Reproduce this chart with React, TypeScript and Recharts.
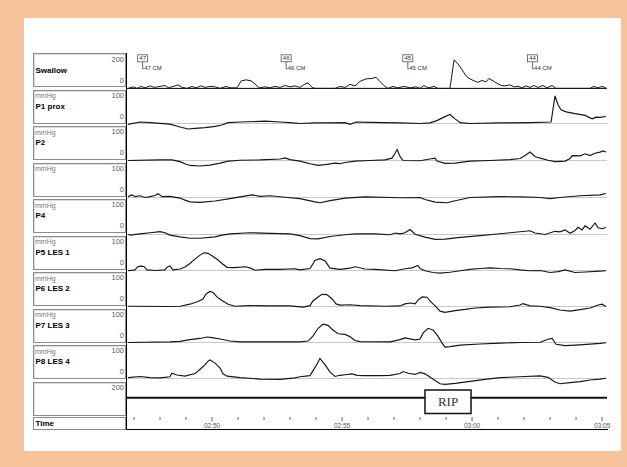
import React from 'react';
import { LineChart, Line, XAxis, YAxis, ReferenceLine, ReferenceArea, ComposedChart, Scatter } from 'recharts';

type Pt = [number, number];

// time in minutes (02:50 = 170)
const timeStart = 166.73;
const timeEnd = 185.19;
const minuteTicks = [167, 168, 169, 170, 171, 172, 173, 174, 175, 176, 177, 178, 179, 180, 181, 182, 183, 184, 185];
const timeLabels: Record<number, string> = { 170: '02:50', 175: '02:55', 180: '03:00', 185: '03:05' };

const swallow: Pt[] = [
  [166.77, 0], [166.96, 11], [167.12, 0], [167.27, 14], [167.42, 4], [167.62, 18], [167.77, 7], [168.0, 14],
  [168.19, 21], [168.31, 4], [168.5, 14], [168.69, 25], [168.85, 7], [169.04, 0], [169.23, 14], [169.38, 4],
  [169.58, 18], [169.73, 7], [169.92, 14], [170.12, 11], [170.31, 0], [170.54, 14], [170.69, 4], [170.96, 4],
  [171.12, 54], [171.31, 61], [171.5, 54], [171.69, 25], [171.81, 4], [172.04, 11], [172.23, 4], [172.42, 14],
  [172.62, 7], [172.81, 21], [173.0, 11], [173.19, 18], [173.38, 7], [173.58, 32], [173.69, 39], [173.85, 7],
  [173.96, 0], [174.73, 0], [174.92, 14], [175.12, 7], [175.31, 29], [175.5, 18], [175.69, 50], [175.92, 68],
  [176.15, 71], [176.31, 79], [176.42, 57], [176.62, 18], [176.77, 0], [176.96, 14], [177.15, 4], [177.38, 14],
  [177.62, 4], [177.85, 11], [178.0, 0], [178.15, 21], [178.31, 4], [178.54, 14], [178.69, 0], [179.15, 0],
  [179.31, 204], [179.46, 175], [179.62, 132], [179.77, 89], [179.92, 68], [180.08, 54], [180.23, 43], [180.38, 57],
  [180.54, 46], [180.65, 71], [180.81, 54], [180.96, 36], [181.12, 21], [181.27, 18], [181.46, 25], [181.62, 11],
  [181.77, 14], [181.92, 4], [182.08, 18], [182.23, 7], [182.38, 21], [182.54, 7], [182.73, 21], [182.88, 4],
  [183.08, 21], [183.23, 0], [184.54, 0], [184.69, 14], [184.85, 4], [185.0, 14], [185.15, 4],
];

const p1Prox: Pt[] = [
  [166.77, -3], [167.23, 5], [167.62, 3], [168.38, -2], [168.77, -12], [169.08, -19], [169.35, -17], [169.73, -14],
  [170.12, -10], [170.38, -5], [170.62, 3], [171.08, 5], [172.04, 8], [172.62, 5], [173.0, 3], [173.38, 0],
  [173.96, 2], [174.54, 2], [175.12, 3], [175.31, -3], [175.54, 5], [176.08, 4], [177.23, 2], [178.0, 0],
  [178.38, 2], [178.65, 10], [178.92, 22], [179.15, 31], [179.35, 16], [179.54, 3], [179.92, 0], [181.08, 2],
  [182.23, 3], [183.04, 5], [183.19, 95], [183.31, 64], [183.42, 47], [183.62, 40], [183.96, 34], [184.35, 28],
  [184.62, 16], [184.77, 22], [184.92, 21], [185.15, 24],
];

const p2: Pt[] = [
  [166.77, 0], [168.0, 2], [168.46, 2], [168.77, -4], [168.96, -11], [169.15, -17], [169.54, -19], [169.92, -16],
  [170.31, -9], [170.62, -2], [171.08, 1], [171.85, 2], [172.62, 5], [172.81, 9], [173.0, 3], [173.38, -2],
  [173.77, -11], [174.08, -17], [174.35, -14], [174.73, -9], [174.92, -11], [175.12, -7], [175.5, -2], [176.08, 0],
  [176.65, 2], [176.92, 8], [177.04, 25], [177.12, 38], [177.23, 14], [177.35, 0], [178.0, -1], [178.38, 5],
  [178.58, 8], [178.65, -2], [178.96, -10], [179.35, -9], [179.92, -2], [180.69, 0], [181.46, 3], [181.85, 7],
  [182.04, 17], [182.23, 29], [182.42, 14], [182.62, 8], [182.92, 1], [183.19, -4], [183.58, -2], [183.77, 7],
  [183.85, 17], [184.15, 16], [184.35, 23], [184.54, 17], [184.73, 25], [184.92, 29], [185.04, 33], [185.15, 29],
];

const p3: Pt[] = [
  [166.77, 3], [166.92, 9], [167.04, 3], [167.23, 6], [167.42, 0], [167.62, 3], [167.81, 7], [167.92, 13],
  [168.08, 3], [168.38, 4], [168.77, -2], [168.96, -9], [169.15, -15], [169.54, -17], [170.12, -12], [170.69, -4],
  [171.08, 2], [171.54, 9], [171.85, 4], [172.23, 6], [172.81, 1], [173.38, -4], [173.96, -15], [174.15, -18],
  [174.54, -11], [175.12, -2], [175.88, 2], [177.23, -1], [178.0, 0], [178.19, -7], [178.58, -16], [179.04, -18],
  [179.35, -11], [179.92, 0], [181.08, 3], [181.85, 2], [182.62, 0], [183.0, -4], [183.38, 0], [184.15, 6],
  [184.92, 9], [185.15, 14],
];

const p4: Pt[] = [
  [166.77, 1], [166.85, -2], [167.23, 2], [167.62, 6], [168.0, 10], [168.19, 6], [168.38, -2], [168.77, -8],
  [169.15, -13], [169.54, -13], [170.12, -8], [170.38, -2], [170.69, 2], [171.46, 6], [172.23, 4], [173.0, 2],
  [173.38, -4], [173.77, -14], [174.08, -15], [174.54, -7], [175.12, -1], [175.5, 2], [176.27, 2], [176.85, -1],
  [177.04, 5], [177.23, 2], [177.42, 6], [177.62, 17], [177.81, 1], [178.19, -9], [178.58, -17], [178.96, -16],
  [179.54, -10], [180.31, -4], [180.88, 1], [181.46, 6], [182.23, 13], [182.42, 5], [182.81, 0], [183.19, 11],
  [183.38, 9], [183.58, 16], [183.77, 4], [183.96, 14], [184.08, 25], [184.23, 16], [184.35, 30], [184.54, 18],
  [184.73, 40], [184.85, 23], [185.0, 20], [185.15, 24],
];

const p5Les1: Pt[] = [
  [166.77, -1], [167.04, 2], [167.15, 14], [167.27, 15], [167.38, 14], [167.5, 2], [167.81, 0], [168.19, 2],
  [168.27, 11], [168.38, 16], [168.5, 2], [168.77, 5], [168.96, 12], [169.15, 24], [169.35, 40], [169.54, 53],
  [169.69, 61], [169.85, 59], [170.04, 48], [170.23, 36], [170.38, 24], [170.58, 11], [170.88, 10], [171.27, 13],
  [171.46, 9], [171.65, 1], [172.04, 4], [172.62, 4], [173.19, 6], [173.38, 2], [173.77, 7], [173.96, 35],
  [174.15, 41], [174.35, 33], [174.54, 8], [174.92, 4], [175.31, 8], [175.5, 13], [175.88, 5], [176.27, 4],
  [177.04, -1], [177.42, 6], [177.69, 9], [177.92, 17], [178.0, 7], [178.19, -1], [178.5, -7], [178.77, -9],
  [179.15, -6], [179.54, -1], [179.92, 4], [180.31, 7], [180.69, 9], [181.08, 7], [181.46, 6], [181.85, 2],
  [182.23, -1], [182.62, 0], [183.0, -7], [183.31, -4], [183.58, 2], [183.96, -7], [184.35, -5], [184.92, -2],
  [185.15, -1],
];

const p6Les2: Pt[] = [
  [166.77, 1], [168.38, 0], [168.77, 1], [169.15, 8], [169.46, 17], [169.65, 26], [169.77, 43], [169.92, 52],
  [170.04, 48], [170.19, 33], [170.38, 21], [170.62, 8], [170.88, 1], [171.46, 3], [172.23, 2], [173.0, 2],
  [173.5, -2], [173.77, 3], [173.88, 19], [174.08, 33], [174.23, 42], [174.42, 41], [174.62, 26], [174.77, 9],
  [174.92, 5], [175.31, 6], [175.69, 3], [176.65, 1], [177.23, 2], [177.42, 9], [177.62, 12], [177.81, 9],
  [177.92, 22], [178.08, 33], [178.27, 32], [178.38, 19], [178.58, 2], [178.77, -16], [178.96, -20], [179.35, -14],
  [179.73, -10], [180.12, -5], [180.69, -2], [181.46, -1], [181.85, 5], [181.96, 10], [182.23, 2], [182.62, 1],
  [183.0, -4], [183.38, -12], [183.77, -16], [184.15, -11], [184.54, -5], [184.85, 5], [185.0, 8], [185.15, 0],
];

const p7Les3: Pt[] = [
  [166.77, 0], [168.38, 2], [168.77, 4], [169.15, 10], [169.54, 14], [169.81, 19], [170.0, 17], [170.31, 12],
  [170.69, 5], [171.08, 2], [173.38, 2], [173.69, 5], [173.88, 22], [174.08, 49], [174.27, 63], [174.46, 59],
  [174.65, 43], [174.85, 30], [175.12, 28], [175.31, 20], [175.5, 7], [175.69, 3], [176.85, 2], [177.23, 10],
  [177.42, 16], [177.81, 9], [178.0, 12], [178.12, 33], [178.31, 49], [178.5, 43], [178.69, 22], [178.85, -2],
  [178.96, -16], [179.15, -14], [179.54, -9], [180.31, -5], [181.08, -2], [181.85, 0], [182.62, 1], [182.92, 11],
  [183.08, 14], [183.23, -6], [183.58, -11], [184.15, -8], [184.92, -3], [185.15, -1],
];

const p8Les4: Pt[] = [
  [166.77, 3], [167.23, 7], [167.62, 3], [168.0, 2], [168.38, 6], [168.46, 18], [168.65, 12], [168.96, 8],
  [169.35, 17], [169.54, 32], [169.73, 47], [169.85, 60], [169.92, 64], [170.12, 53], [170.31, 36], [170.42, 16],
  [170.58, 8], [171.08, 3], [171.85, -2], [172.62, -3], [173.19, 2], [173.38, 6], [173.77, 10], [173.85, 22],
  [174.04, 50], [174.15, 69], [174.35, 47], [174.54, 22], [174.73, 7], [174.92, 11], [175.12, 13], [175.38, 16],
  [175.58, 11], [175.88, 10], [176.46, 10], [176.85, 11], [177.23, 17], [177.35, 24], [177.54, 18], [177.81, 14],
  [178.0, 21], [178.19, 16], [178.38, 5], [178.58, -7], [178.77, -18], [178.96, -20], [179.35, -17], [179.92, -10],
  [180.5, -3], [181.08, 3], [181.85, 6], [182.62, 9], [182.92, 4], [183.19, -12], [183.38, -18], [183.77, -14],
  [184.15, -11], [184.54, -5], [184.92, -2], [185.15, 1],
];

const swallowMarks = [
  { t: 167.33, num: '47', cm: '47 CM' },
  { t: 172.85, num: '46', cm: '46 CM' },
  { t: 177.53, num: '45', cm: '45 CM' },
  { t: 182.33, num: '44', cm: '44 CM' },
];

const rip = { start: 178.19, end: 179.96, label: 'RIP' };

const rows = (pts: Pt[]) => pts.map(([t, v]) => ({ t, v }));

const FONT = "'Liberation Sans', Arial, sans-serif";
const PLOT_LEFT = 127;
const PLOT_W = 480;
const ZERO = { top: 0, right: 0, bottom: 0, left: 0 };

const pressureRows = [
  { data: p1Prox, base: 123.5 },
  { data: p2, base: 160 },
  { data: p3, base: 197 },
  { data: p4, base: 234 },
  { data: p5Les1, base: 270 },
  { data: p6Les2, base: 306.5 },
  { data: p7Les3, base: 342.5 },
  { data: p8Les4, base: 378.5 },
];

const labelBoxes = [
  { unit: '', name: 'Swallow', hi: '200', lo: '0' },
  { unit: 'mmHg', name: 'P1 prox', hi: '100', lo: '0' },
  { unit: 'mmHg', name: 'P2', hi: '100', lo: '0' },
  { unit: 'mmHg', name: '', hi: '100', lo: '0' },
  { unit: 'mmHg', name: 'P4', hi: '100', lo: '0' },
  { unit: 'mmHg', name: 'P5 LES 1', hi: '100', lo: '0' },
  { unit: 'mmHg', name: 'P6 LES 2', hi: '100', lo: '0' },
  { unit: 'mmHg', name: 'P7 LES 3', hi: '100', lo: '0' },
  { unit: 'mmHg', name: 'P8 LES 4', hi: '100', lo: '0' },
  { unit: '', name: '', hi: '200', lo: '' },
];

const Txt = ({ x, cy, size, children, bold, color, align }: any) => (
  <div
    style={{
      position: 'absolute',
      top: cy - size / 2,
      left: align === 'right' ? undefined : x,
      right: align === 'right' ? 627 - x : undefined,
      fontSize: size,
      lineHeight: `${size}px`,
      fontFamily: FONT,
      fontWeight: bold ? 700 : 400,
      color: color || '#000',
      whiteSpace: 'nowrap',
    }}
  >
    {children}
  </div>
);

const LabelBox = ({ box, top }: any) => {
  const sw = box.name === 'Swallow' ? 1 : 0;
  return (
    <>
      <div
        style={{
          position: 'absolute', left: 33, top, width: 93, height: 34, boxSizing: 'border-box',
          border: '1px solid #8c8c8c', boxShadow: 'inset 1px 1px 0 #dcdcdc',
        }}
      />
      {box.unit && <Txt x={35} cy={top + 6} size={7} color="#777">{box.unit}</Txt>}
      {box.name && <Txt x={35.5} cy={top + 17 + sw} size={8} bold>{box.name}</Txt>}
      {box.hi && <Txt x={124} cy={top + 6 + sw} size={7.5} color="#5c5c5c" align="right">{box.hi}</Txt>}
      {box.lo && <Txt x={124} cy={top + 27 + sw} size={7.5} color="#5c5c5c" align="right">{box.lo}</Txt>}
    </>
  );
};

const PressureTrace = ({ data, base }: { data: Pt[]; base: number }) => {
  const k = 0.29;
  const lo = -50;
  const hi = 150;
  const h = (hi - lo) * k;
  return (
    <div style={{ position: 'absolute', left: PLOT_LEFT, top: base - hi * k, width: PLOT_W, height: h }}>
      <LineChart width={PLOT_W} height={h} data={rows(data)} margin={ZERO}>
        <XAxis type="number" dataKey="t" domain={[timeStart, timeEnd]} hide allowDataOverflow />
        <YAxis type="number" domain={[lo, hi]} hide allowDataOverflow />
        <ReferenceLine y={0} stroke="#c9c9c9" />
        <Line dataKey="v" type="linear" dot={false} stroke="#161616" strokeWidth={1.15} isAnimationActive={false} />
      </LineChart>
    </div>
  );
};

const SwallowTag = (props: any) => {
  const { cx, cy, payload } = props;
  return (
    <g fontFamily={FONT}>
      <rect x={cx - 5} y={cy} width={10} height={7} fill="#fff" stroke="#555" strokeWidth={0.8} />
      <text x={cx} y={cy + 5.6} textAnchor="middle" fontSize={6} fill="#333">{payload.num}</text>
      <line x1={cx} x2={cx} y1={cy + 7} y2={cy + 14} stroke="#444" strokeWidth={0.8} />
      <line x1={cx} x2={cx + 1.5} y1={cy + 14} y2={cy + 14} stroke="#444" strokeWidth={0.8} />
      <text x={cx + 1.5} y={cy + 15} fontSize={6} fill="#333">{payload.cm}</text>
    </g>
  );
};

const SwallowTrace = () => {
  const k = 0.14;
  const lo = -20;
  const hi = 260;
  const h = (hi - lo) * k;
  const base = 88.5;
  return (
    <div style={{ position: 'absolute', left: PLOT_LEFT, top: base - hi * k, width: PLOT_W, height: h }}>
      <ComposedChart width={PLOT_W} height={h} margin={ZERO}>
        <XAxis type="number" dataKey="t" domain={[timeStart, timeEnd]} hide allowDataOverflow />
        <YAxis type="number" domain={[lo, hi]} hide allowDataOverflow />
        <ReferenceLine y={0} stroke="#000" />
        <Line data={rows(swallow)} dataKey="v" type="linear" dot={false} stroke="#161616" strokeWidth={1}
          isAnimationActive={false} />
        <Scatter data={swallowMarks.map((m) => ({ ...m, v: 240 }))} dataKey="v" shape={SwallowTag}
          isAnimationActive={false} />
      </ComposedChart>
    </div>
  );
};

const RipRow = () => {
  const level = 0.64;
  return (
    <div style={{ position: 'absolute', left: PLOT_LEFT, top: 388, width: PLOT_W, height: 27 }}>
      <ComposedChart width={PLOT_W} height={27} margin={ZERO} data={[{ t: timeStart }, { t: timeEnd }]}>
        <XAxis type="number" dataKey="t" domain={[timeStart, timeEnd]} hide allowDataOverflow />
        <YAxis type="number" domain={[0, 1]} hide allowDataOverflow />
        <ReferenceLine segment={[{ x: timeStart, y: level }, { x: rip.start, y: level }]} stroke="#111" strokeWidth={2} />
        <ReferenceLine segment={[{ x: rip.end, y: level }, { x: timeEnd, y: level }]} stroke="#111" strokeWidth={2} />
        <ReferenceArea x1={rip.start} x2={rip.end} y1={0.06} y2={0.93} fill="#fff" fillOpacity={1} stroke="#111"
          strokeWidth={1.5}
          label={{ value: rip.label, position: 'center', fontSize: 13, fill: '#333', fontFamily: "'Liberation Serif', 'Times New Roman', serif" }} />
      </ComposedChart>
    </div>
  );
};

const TimeTick = (props: any) => {
  const { x, y, payload } = props;
  const label = timeLabels[payload.value];
  return (
    <g>
      <line x1={x} x2={x} y1={y} y2={y + (label ? 4.5 : 3)} stroke="#555" strokeWidth={0.9} />
      {label && (
        <text x={x} y={y + 10.5} textAnchor="middle" fontSize={6.5} fill="#555" fontFamily={FONT}>{label}</text>
      )}
    </g>
  );
};

const TimeAxisRow = () => (
  <div style={{ position: 'absolute', left: PLOT_LEFT, top: 400, width: PLOT_W + 20, height: 30 }}>
    <LineChart width={PLOT_W + 20} height={30} margin={{ top: 0, right: 20, bottom: 0, left: 0 }}
      data={minuteTicks.map((t) => ({ t }))}>
      <XAxis type="number" dataKey="t" domain={[timeStart, timeEnd]} ticks={minuteTicks} interval={0} height={13}
        axisLine={false} tickLine={false} tickSize={0} tickMargin={0} tick={TimeTick} allowDataOverflow />
      <YAxis hide />
    </LineChart>
  </div>
);

export default function App() {
  return (
    <div style={{ position: 'absolute', left: 0, top: 0, width: 627, height: 467, background: '#f8c39b', overflow: 'hidden' }}>
      <div style={{ position: 'absolute', left: 24, top: 18, width: 597, height: 433, background: '#fff' }} />
      {labelBoxes.map((b, i) => (
        <LabelBox key={i} box={b} top={53 + 36.5 * i} />
      ))}
      <div style={{ position: 'absolute', left: 33, top: 417, width: 93, height: 13, boxSizing: 'border-box', border: '1px solid #8c8c8c' }} />
      <Txt x={35.5} cy={423.5} size={8} bold>Time</Txt>
      <div style={{ position: 'absolute', left: 126, top: 53, width: 482, height: 377, boxSizing: 'border-box', borderLeft: '1px solid #000', borderBottom: '1px solid #000' }} />
      <SwallowTrace />
      {pressureRows.map((r, i) => (
        <PressureTrace key={i} data={r.data} base={r.base} />
      ))}
      <RipRow />
      <TimeAxisRow />
    </div>
  );
}
